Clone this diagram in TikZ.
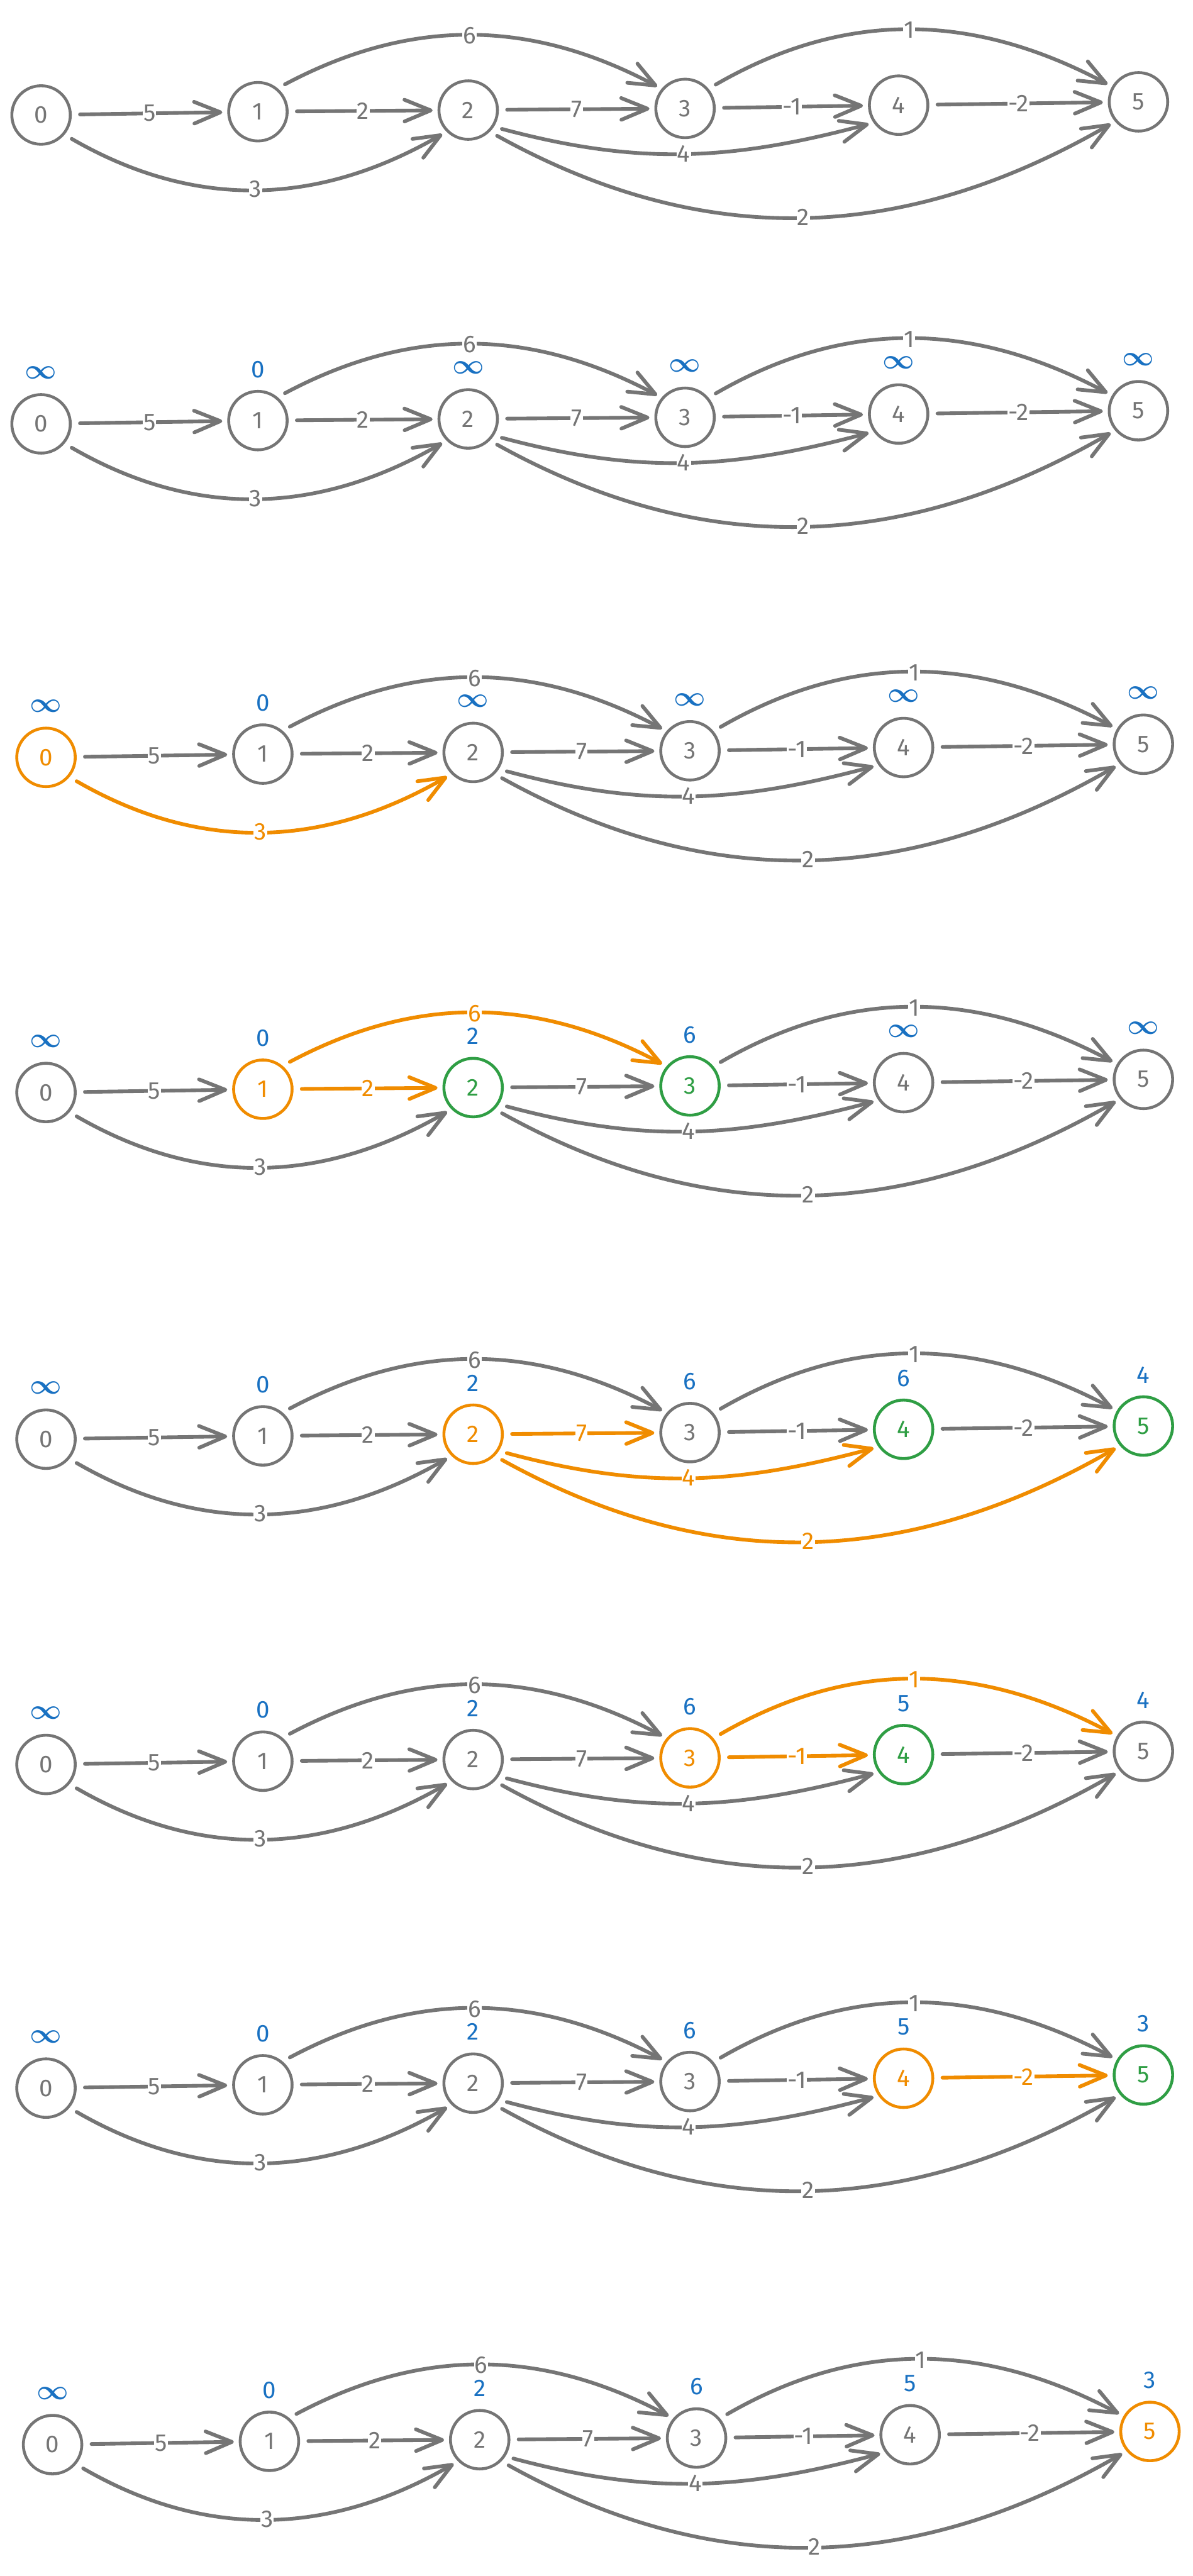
\documentclass[tikz,border=0pt]{standalone}
\usepackage{fontspec}
\setmainfont{Fira Sans}
\usetikzlibrary{arrows.meta}
\definecolor{inkgray}{RGB}{117, 117, 117}
\definecolor{hotorange}{RGB}{240, 140, 0}
\definecolor{donegreen}{RGB}{47, 158, 68}
\definecolor{distblue}{RGB}{25, 113, 194}
\newcommand{\graphfont}{\fontsize{10.5}{12}\selectfont}
\newcommand{\unk}{{\fontsize{12}{12}\selectfont\boldmath$\infty$}}

% one copy of the DAG, vertex 0 at (#2,#3)
\newcommand{\dagpanel}[3]{%
  \begin{scope}[shift={(#2,#3)}]
    \node[vertex, #1n0/.try] (#1n0) at (0, 0)    {0};
    \node[vertex, #1n1/.try] (#1n1) at (132, -2) {1};
    \node[vertex, #1n2/.try] (#1n2) at (260, -3) {2};
    \node[vertex, #1n3/.try] (#1n3) at (392, -4) {3};
    \node[vertex, #1n4/.try] (#1n4) at (522, -6) {4};
    \node[vertex, #1n5/.try] (#1n5) at (668, -8) {5};
  \end{scope}
  % straight edges
  \draw[link, #1e01/.try] (#1n0) -- node[wt] {5} (#1n1);
  \draw[link, #1e12/.try] (#1n1) -- node[wt] {2} (#1n2);
  \draw[link, #1e23/.try] (#1n2) -- node[wt] {7} (#1n3);
  \draw[link, #1e34/.try] (#1n3) -- node[wt] {-1} (#1n4);
  \draw[link, #1e45/.try] (#1n4) -- node[wt] {-2} (#1n5);
  % arcs
  \draw[link, #1e13/.try] (#1n1.50) to[out=28, in=152] node[wt] {6} (#1n3.140);
  \draw[link, #1e35/.try] (#1n3.40) to[out=30, in=152] node[wt] {1} (#1n5.150);
  \draw[link, #1e02/.try] (#1n0.-40) to[out=-30, in=-150] node[wt] {3} (#1n2.-135);
  \draw[link, #1e24/.try] (#1n2.-33) to[out=-15, in=-165] node[wt] {4} (#1n4.-145);
  \draw[link, #1e25/.try] (#1n2.-45) to[out=-29, in=-150] node[wt] {2} (#1n5.-140);
}

% distance labels over the vertices of panel #1
\newcommand{\distrow}[2]{%
  \foreach \d [count=\k from 0] in {#2}
    \node[dist] at ([yshift=7.8mm]#1n\k.center) {\d};
}

\begin{document}
\begin{tikzpicture}[
  x=0.25mm, y=-0.25mm,
  vertex/.style={circle, draw, color=inkgray, line width=1.25pt,
                 minimum size=8.9mm, inner sep=0pt, font=\graphfont},
  link/.style={color=inkgray, line width=1.6pt, line cap=round,
               -{Straight Barb[length=4mm, width=3.3mm, round]},
               shorten <=1.25mm, shorten >=0.75mm},
  wt/.style={fill=white, inner sep=0.3pt, font=\graphfont},
  dist/.style={color=distblue, inner sep=0pt, font=\graphfont},
  hot/.style={color=hotorange},
  done/.style={color=donegreen},
  % highlighted parts of each step
  p3n0/.style=hot, p3e02/.style=hot,
  p4n1/.style=hot, p4e12/.style=hot, p4e13/.style=hot,
  p4n2/.style=done, p4n3/.style=done,
  p5n2/.style=hot, p5e23/.style=hot, p5e24/.style=hot, p5e25/.style=hot,
  p5n4/.style=done, p5n5/.style=done,
  p6n3/.style=hot, p6e34/.style=hot, p6e35/.style=hot, p6n4/.style=done,
  p7n4/.style=hot, p7e45/.style=hot, p7n5/.style=done,
  p8n5/.style=hot
]
  \fill[white] (0, 0) rectangle (726, 1568);
  \useasboundingbox (0, 0) rectangle (726, 1568);

  % --- Steps ---
  \dagpanel{p1}{25}{70}
  \dagpanel{p2}{25}{258}
  \dagpanel{p3}{28}{461}
  \dagpanel{p4}{28}{665}
  \dagpanel{p5}{28}{876}
  \dagpanel{p6}{28}{1074}
  \dagpanel{p7}{28}{1271}
  \dagpanel{p8}{32}{1488}

  % --- Distances ---
  \distrow{p2}{\unk, 0, \unk, \unk, \unk, \unk}
  \distrow{p3}{\unk, 0, \unk, \unk, \unk, \unk}
  \distrow{p4}{\unk, 0, 2, 6, \unk, \unk}
  \distrow{p5}{\unk, 0, 2, 6, 6, 4}
  \distrow{p6}{\unk, 0, 2, 6, 5, 4}
  \distrow{p7}{\unk, 0, 2, 6, 5, 3}
  \distrow{p8}{\unk, 0, 2, 6, 5, 3}

\end{tikzpicture}
\end{document}
